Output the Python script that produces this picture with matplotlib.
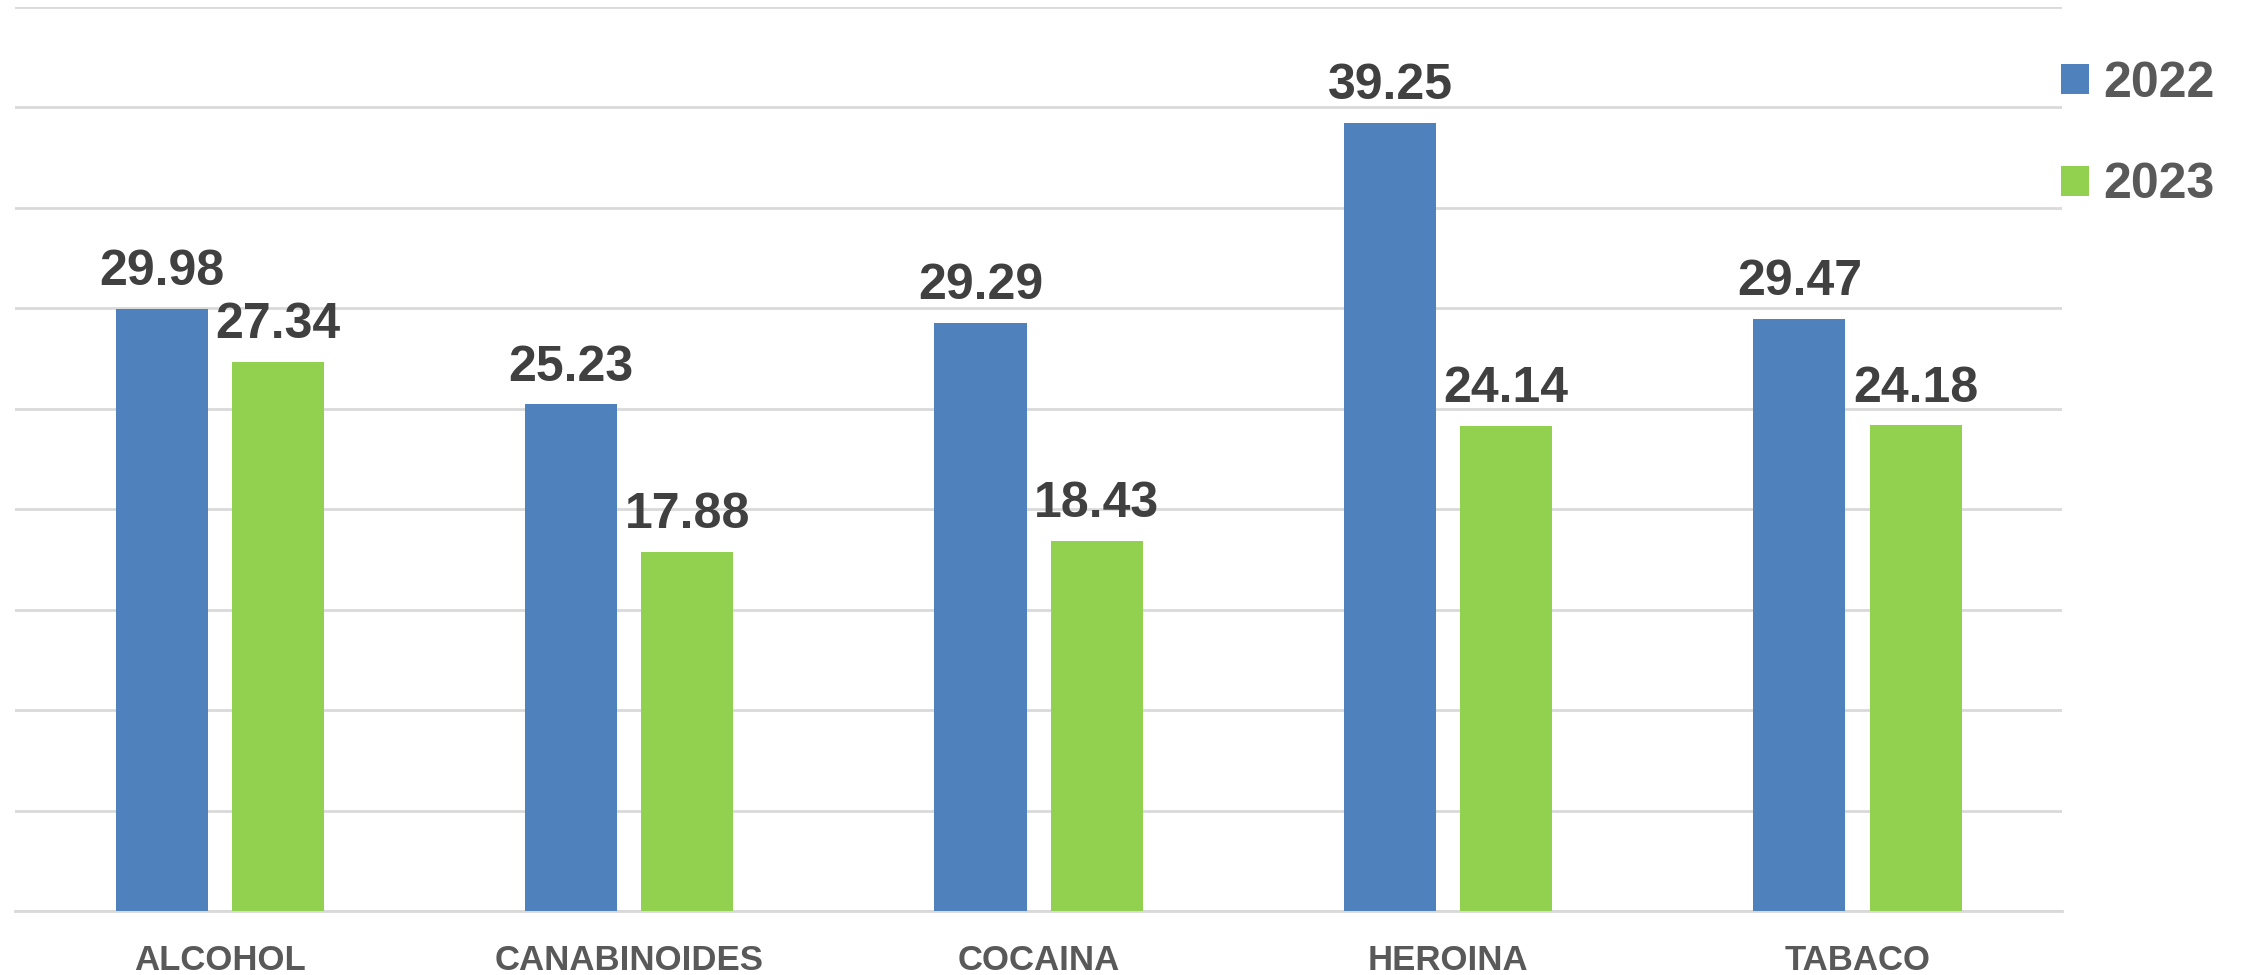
import matplotlib.pyplot as plt
import numpy as np

categories = ['ALCOHOL', 'CANABINOIDES', 'COCAINA', 'HEROINA', 'TABACO']
years = ['2022', '2023']
vals_2022 = [29.98, 25.23, 29.29, 39.25, 29.47]
vals_2023 = [27.34, 17.88, 18.43, 24.14, 24.18]
colors = ['#4F81BD', '#92D050']

plt.rcParams['font.family'] = ['Liberation Sans', 'DejaVu Sans']

fig = plt.figure(figsize=(22.44, 9.75), dpi=100)
ax = fig.add_axes([0.0067, 0.0656, 0.9123, 0.9272])

x = np.arange(len(categories))
w = 0.225
off = 0.142

for vals, c, dx, yr in zip([vals_2022, vals_2023], colors, [-off, off], years):
    bars = ax.bar(x + dx, vals, width=w, color=c, label=yr, zorder=3)
    for b, v in zip(bars, vals):
        ax.annotate(f'{v:.2f}', (b.get_x() + b.get_width() / 2, v),
                    xytext=(0, 17), textcoords='offset points',
                    ha='center', va='baseline', fontsize=36,
                    fontweight='bold', color='#404040', zorder=4)

ax.set_xlim(-0.5, len(categories) - 0.5)
ax.set_ylim(0, 45)
ax.set_yticks(np.arange(0, 46, 5))
ax.yaxis.grid(True, color='#D9D9D9', lw=2, zorder=0)
ax.set_axisbelow(True)
ax.tick_params(axis='y', left=False, labelleft=False)
ax.set_xticks(x)
ax.set_xticklabels(categories, fontsize=25, fontweight='bold', color='#595959')
ax.tick_params(axis='x', length=0, pad=24)
for s in ['top', 'right', 'left']:
    ax.spines[s].set_visible(False)
ax.spines['bottom'].set_color('#D9D9D9')
ax.spines['bottom'].set_linewidth(2)

leg = ax.legend(loc='upper left', bbox_to_anchor=(0.9995, 0.9405), frameon=False,
                prop={'size': 36, 'weight': 'bold'}, handlelength=0.55,
                handleheight=0.55, handletextpad=0.3, labelspacing=1.11,
                borderpad=0, borderaxespad=0)
for t in leg.get_texts():
    t.set_color('#595959')

fig.savefig('out.png', dpi=100)
